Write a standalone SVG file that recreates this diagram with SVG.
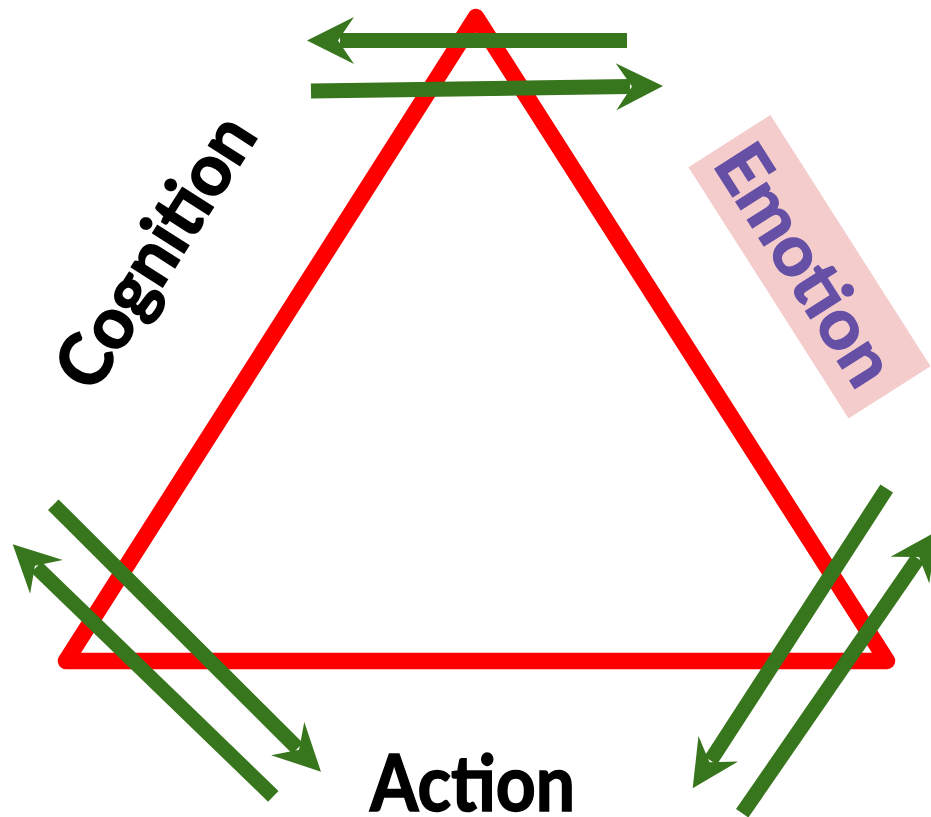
<svg xmlns="http://www.w3.org/2000/svg" width="931" height="817" viewBox="0 0 931 817">
  <defs>
    <marker id="head" markerUnits="userSpaceOnUse" markerWidth="48" markerHeight="48" viewBox="0 0 48 48" refX="14" refY="24" orient="auto" overflow="visible">
      <path d="M0,0.5 L47,24 L0,47.5 L16,24 Z" fill="#38761d"/>
    </marker>
  </defs>
  <style>
    .tri { fill: none; stroke: #ff0000; stroke-width: 16.5; stroke-linejoin: round; }
    .arrow { fill: none; stroke: #38761d; stroke-width: 15; stroke-linecap: butt; marker-end: url(#head); }
    .lbl { font-family: Lato, "Open Sans", "Liberation Sans", sans-serif; font-weight: bold; stroke-width: 1.6; }
  </style>
  <rect width="931" height="817" fill="#ffffff"/>
  <g id="triangle">
    <polygon class="tri" points="476,17 66,661 887,661"/>
  </g>
  <g id="cognition">
    <text class="lbl" x="93.6" y="395" font-size="72" fill="#000000" stroke="#000000" textLength="308" lengthAdjust="spacingAndGlyphs" transform="rotate(-57.5 93.6 395)">Cognition</text>
  </g>
  <g id="emotion">
    <g transform="translate(809.5 266.7) rotate(57.5)">
      <rect x="-149" y="-48.6" width="298" height="97.2" fill="#f4cccc"/>
      <text class="lbl" x="-4" y="27" font-size="70" fill="#6650a6" stroke="#6650a6" text-anchor="middle" textLength="270" lengthAdjust="spacingAndGlyphs">Emotion</text>
    </g>
  </g>
  <g id="action">
    <text class="lbl" x="370" y="811" font-size="78" fill="#000000" stroke="#000000" textLength="205" lengthAdjust="spacingAndGlyphs">Action</text>
  </g>
  <g id="connectors">
    <path class="arrow" d="M627,40.5 L340,40.5"/>
    <path class="arrow" d="M311,91 L630,86.5"/>
    <path class="arrow" d="M53.3,504.7 L297.6,748.4"/>
    <path class="arrow" d="M273.3,796.3 L36.4,567.2"/>
    <path class="arrow" d="M886.7,488.5 L710.6,760.6"/>
    <path class="arrow" d="M742.2,813.3 L917.9,558.6"/>
  </g>
</svg>
